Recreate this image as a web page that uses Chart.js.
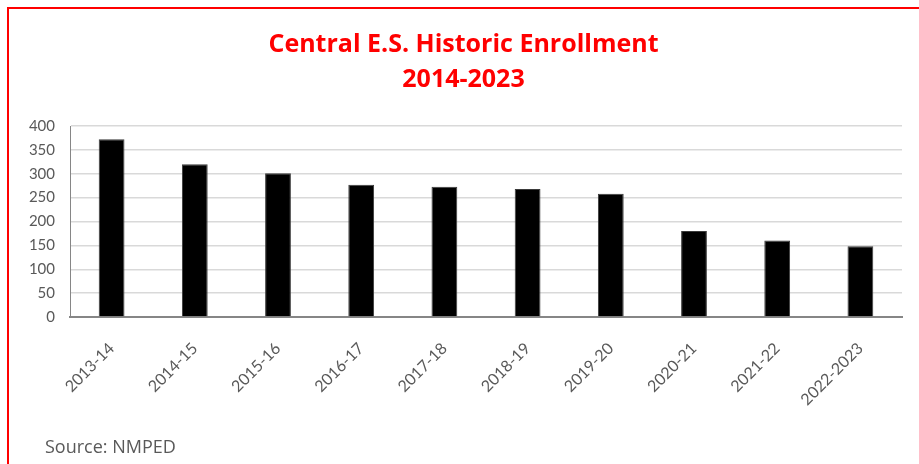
<!DOCTYPE html>
<html>
<head>
<meta charset="utf-8">
<script src="https://cdn.jsdelivr.net/npm/chart.js@4"></script>
<style>
  html, body { margin: 0; padding: 0; background: #fff; }
  #wrap { position: relative; width: 919px; height: 464px; overflow: hidden; }
  #frame { position: absolute; left: 7px; top: 7px; right: -5px; bottom: -5px;
           border-top: 2px solid #ff0000; border-left: 2px solid #ff0000; pointer-events: none; }
  #source { position: absolute; left: 45px; top: 434px; font-family: 'Open Sans', sans-serif;
            font-size: 18px; color: #595959; }
</style>
</head>
<body>
<div id="wrap">
  <canvas id="myChart" width="919" height="464"></canvas>
  <div id="frame"></div>
  <div id="source">Source: NMPED</div>
</div>
<script>
const labels = ["2013-14", "2014-15", "2015-16", "2016-17", "2017-18", "2018-19", "2019-20", "2020-21", "2021-22", "2022-2023"];
const enrollment = [372, 320, 301, 277, 273, 268, 258, 180, 160, 148];
const titleLines = ["Central E.S. Historic Enrollment", "2014-2023"];

const ctx = document.getElementById('myChart');

new Chart(ctx, {
  type: 'bar',
  data: {
    labels: labels,
    datasets: [{
      label: 'Enrollment',
      data: enrollment,
      backgroundColor: '#000000',
      borderColor: '#3a3a3a',
      borderWidth: 1,
      barPercentage: 0.31,
      categoryPercentage: 1
    }]
  },
  options: {
    responsive: false,
    animation: false,
    layout: { padding: { left: 25, right: 17, top: 0, bottom: 0 } },
    plugins: {
      legend: { display: false },
      tooltip: { enabled: false },
      title: {
        display: true,
        text: titleLines,
        color: '#ff0000',
        font: { family: 'Open Sans', size: 25, weight: 'bold', lineHeight: 1.4 },
        padding: { top: 27, bottom: 29 }
      }
    },
    scales: {
      x: {
        grid: { display: false, drawTicks: false },
        border: { color: '#868686', width: 2 },
        ticks: {
          color: '#595959',
          font: { family: 'Lato', size: 16 },
          minRotation: 45,
          maxRotation: 45,
          padding: 22
        },
        afterFit: (scale) => { scale.height = 147; }
      },
      y: {
        min: 0,
        max: 400,
        grid: { color: '#d9d9d9', lineWidth: 1.5, drawTicks: false },
        border: { color: '#868686', width: 1 },
        ticks: {
          stepSize: 50,
          color: '#595959',
          font: { family: 'Lato', size: 15 },
          padding: 15
        },
        afterFit: (scale) => { scale.width = 45; }
      }
    }
  }
});
</script>
</body>
</html>
